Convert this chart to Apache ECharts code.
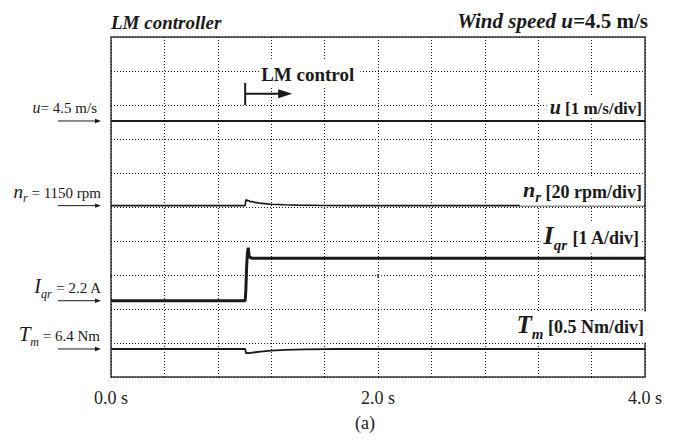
<!DOCTYPE html>
<html><head><meta charset="utf-8">
<script src="https://cdn.jsdelivr.net/npm/echarts@6/dist/echarts.min.js"></script>
<style>html,body{margin:0;padding:0;background:#fff}#c{width:678px;height:443px}</style>
</head><body><div id="c"></div>
<script>
// ---- data (time in s, values in physical units) ----
const tickLabels = ['0.0 s', '2.0 s', '4.0 s'];
const stepTime = 1.005;

const uTime = [0, 4];
const uVals = [4.5, 4.5];

const nrTime = [0, 1.005, 1.01, 1.016, 1.024, 1.032, 1.045, 1.06, 1.075, 1.09, 1.11, 1.15, 1.2, 1.3, 1.4, 1.6, 1.8, 4.0];
const nrVals = [1150, 1150, 1153.2, 1153.5, 1152.7, 1153.0, 1152.3, 1152.4, 1151.9, 1151.8, 1151.5, 1151.2, 1150.8, 1150.5, 1150.3, 1150.1, 1150, 1150];

const iqrTime = [0, 1.005, 1.01, 1.016, 1.022, 1.028, 1.034, 1.042, 1.06, 1.2, 4.0];
const iqrVals = [2.2, 2.2, 2.5, 3.2, 3.6, 3.76, 3.52, 3.47, 3.45, 3.45, 3.45];

const tmTime = [0, 1.005, 1.012, 1.025, 1.04, 1.06, 1.08, 1.12, 1.2, 1.3, 1.45, 1.7, 4.0];
const tmVals = [6.4, 6.4, 6.336, 6.342, 6.338, 6.348, 6.352, 6.362, 6.377, 6.388, 6.395, 6.4, 6.4];

// ---- trace scaling (value per division, reference level, division where the reference sits) ----
const traces = [
  {name: 'u',   perDiv: 1,   ref: 4.5,  refDiv: 7.53},
  {name: 'nr',  perDiv: 20,  ref: 1150, refDiv: 5.04},
  {name: 'iqr', perDiv: 1,   ref: 2.2,  refDiv: 2.244},
  {name: 'tm',  perDiv: 0.5, ref: 6.4,  refDiv: 0.824}
];
const DIVS = 10;
const FONT = 'Liberation Serif';
const INK = '#1a1a1a';

const chart = echarts.init(document.getElementById('c'), null, {renderer: 'svg'});
const pair = (t, v) => t.map((x, i) => [x, v[i]]);

const yAxes = [{
  type: 'value', min: 0, max: DIVS, interval: 1,
  axisLine: {show: false}, axisTick: {show: false}, axisLabel: {show: false},
  splitLine: {show: true, lineStyle: {type: [1, 2], color: '#1a1a1a', width: 1}}
}].concat(traces.map(tr => ({
  type: 'value', show: false,
  min: tr.ref - tr.refDiv * tr.perDiv,
  max: tr.ref + (DIVS - tr.refDiv) * tr.perDiv,
  splitLine: {show: false}
})));

const mkSeries = (data, yi, w) => ({
  type: 'line', data, xAxisIndex: 0, yAxisIndex: yi, showSymbol: false, symbol: 'none',
  lineStyle: {color: INK, width: w}, silent: true, animation: false
});

chart.setOption({
  animation: false,
  backgroundColor: '#fff',
  grid: {left: 111, top: 37, width: 534, height: 340, show: true, borderColor: '#3a3a3a', borderWidth: 1.5, backgroundColor: 'transparent'},
  xAxis: [{
    type: 'value', min: 0, max: 4, interval: 0.4,
    axisLine: {show: false}, axisTick: {show: false}, axisLabel: {show: false},
    splitLine: {show: true, lineStyle: {type: [1, 2], color: '#1a1a1a', width: 1}}
  }, {
    type: 'value', min: 0, max: 4, interval: 2, position: 'bottom',
    axisLine: {show: false},
    axisTick: {show: true, length: 4, lineStyle: {color: '#3a3a3a', width: 1.5}},
    axisLabel: {formatter: v => tickLabels[Math.round(v / 2)], fontFamily: FONT, fontSize: 18, color: '#222', margin: 12},
    splitLine: {show: false}
  }],
  yAxis: yAxes,
  series: [
    mkSeries(pair(uTime, uVals), 1, 2),
    mkSeries(pair(nrTime, nrVals), 2, 1.6),
    mkSeries(pair(iqrTime, iqrVals), 3, 3),
    mkSeries(pair(tmTime, tmVals), 4, 1.8)
  ]
});

const xPx = t => chart.convertToPixel({xAxisIndex: 0}, t);
const yPx = (yi, v) => chart.convertToPixel({yAxisIndex: yi}, v);
const x0 = xPx(0), x4 = xPx(4);
const yRef = traces.map((tr, i) => yPx(i + 1, tr.ref));
const yIqrHigh = yPx(3, iqrVals[iqrVals.length - 1]);

const g = [];
function txt(x, y, text, rich, align, extra) {
  g.push({type: 'text', z: 100, silent: true, style: Object.assign({
    x, y, text, rich, fill: INK, align, textAlign: align, verticalAlign: 'middle', textVerticalAlign: 'middle',
    fontFamily: FONT, fontSize: 15
  }, extra || {})});
}
const R = (size, style, weight, pad) => ({fontFamily: FONT, fontSize: size, fontStyle: style || 'normal', fontWeight: weight || 'normal', fill: INK, verticalAlign: 'bottom', padding: pad || [0, 0, 0, 0]});

// left reference labels and arrows
const leftLabels = [
  {text: '{i|u}{r|= 4.5 m/s}', rich: {i: R(16, 'italic', 'normal', [0,0,0,0]), r: R(15)}, right: x0 - 14},
  {text: '{i|n}{s|r}{r| = 1150 rpm}', rich: {i: R(19, 'italic', 'normal', [0,0,3,0]), s: R(12, 'italic'), r: R(15, 'normal', 'normal', [0,0,3,0])}, right: x0 - 10},
  {text: '{i|I}{s|qr}{r| = 2.2 A}', rich: {i: R(20, 'italic', 'normal', [0,0,4,0]), s: R(12, 'italic'), r: R(15, 'normal', 'normal', [0,0,4,0])}, right: x0 - 10},
  {text: '{i|T}{s|m}{r| = 6.4 Nm}', rich: {i: R(21, 'italic', 'normal', [0,0,4,0]), s: R(12, 'italic'), r: R(15, 'normal', 'normal', [0,0,5,0])}, right: x0 - 11}
];
leftLabels.forEach((l, i) => {
  const y = yRef[i];
  txt(l.right, y - 13, l.text, l.rich, 'right');
  g.push({type: 'line', silent: true, shape: {x1: x0 - 53, y1: y, x2: x0 - 14, y2: y}, style: {stroke: INK, lineWidth: 1}});
  g.push({type: 'polygon', silent: true, shape: {points: [[x0 - 10, y], [x0 - 16, y - 2.2], [x0 - 16, y + 2.2]]}, style: {fill: INK}});
});

// right scale labels (white boxes)
const box = {backgroundColor: '#fff', padding: [1, 2, 1, 3]};
txt(x4 - 1, yRef[0] - 14, '{i|u}{r| [1 m/s/div]}', {i: R(20, 'italic', 'bold'), r: R(17, 'normal', 'bold')}, 'right', box);
txt(x4 - 1, yRef[1] - 14, '{i|n}{s|r}{r| [20 rpm/div]}', {i: R(22, 'italic', 'bold', [0,0,4,0]), s: R(15, 'italic', 'bold'), r: R(18, 'normal', 'bold', [0,0,4,0])}, 'right', box);
txt(x4 - 4, yIqrHigh - 21, '{i|I}{s|qr}{r| [1 A/div]}', {i: R(26, 'italic', 'bold', [0,0,4,0]), s: R(15, 'italic', 'bold'), r: R(18, 'normal', 'bold', [0,0,5,0])}, 'right', box);
txt(x4 + 1, yRef[3] - 22, '{i|T}{s|m}{r| [0.5 Nm/div]}', {i: R(25, 'italic', 'bold', [0,0,4,0]), s: R(15, 'italic', 'bold'), r: R(18, 'normal', 'bold', [0,0,5,0])}, 'right', box);

// LM control marker
const xs = xPx(stepTime);
const yd = d => yPx(0, d);
g.push({type: 'line', silent: true, shape: {x1: xs, y1: yd(8.65), x2: xs, y2: yd(8.0)}, style: {stroke: INK, lineWidth: 2}});
g.push({type: 'line', silent: true, shape: {x1: xs, y1: yd(8.33), x2: xs + 36, y2: yd(8.33)}, style: {stroke: INK, lineWidth: 2}});
g.push({type: 'polygon', silent: true, shape: {points: [[xs + 47, yd(8.33)], [xs + 33, yd(8.33) - 4.5], [xs + 33, yd(8.33) + 4.5]]}, style: {fill: INK}});
txt(xs + 14, yd(8.9), 'LM control', null, 'left', {fontSize: 19, fontWeight: 'bold', backgroundColor: '#fff', padding: [4, 6, 4, 2]});

// titles
txt(x0, 22, 'LM controller', null, 'left', {fontSize: 19, fontWeight: 'bold', fontStyle: 'italic'});
txt(648, 21, '{i|Wind speed u=}{r|4.5 m/s}', {i: R(21, 'italic', 'bold'), r: R(21, 'normal', 'bold')}, 'right');
txt(365, 423, '(a)', null, 'center', {fontSize: 18});

chart.setOption({graphic: g});
</script></body></html>
